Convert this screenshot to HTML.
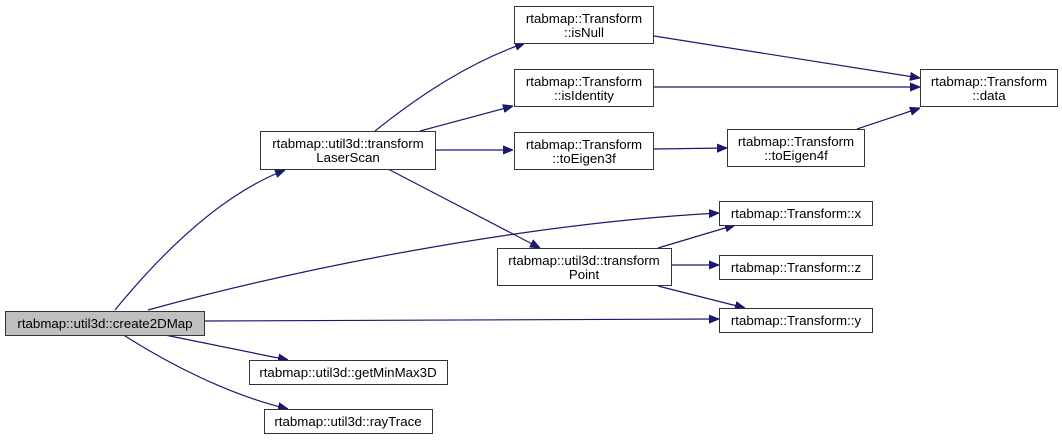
<!DOCTYPE html>
<html><head><meta charset="utf-8"><style>
html,body{margin:0;padding:0;background:#fff;}
svg{display:block}
text{font-family:"Liberation Sans",Arial,sans-serif;font-size:13.3px;fill:#000}
</style></head><body>
<svg width="1062" height="440" viewBox="0 0 1062 440" xmlns="http://www.w3.org/2000/svg">
<defs>
<marker id="a" viewBox="0 0 10 10" refX="10" refY="5" markerWidth="10" markerHeight="10" markerUnits="userSpaceOnUse" orient="auto">
<path d="M0,1 L10,5 L0,9 z" fill="#191970" stroke="#191970"/>
</marker>
</defs>
<g fill="none" stroke="#191970" stroke-width="1.2" marker-end="url(#a)">
<path d="M115,310 C160,255 220,195 285,170"/>
<path d="M148,310 C330,260 550,222 719,213"/>
<path d="M204,321 L719,319"/>
<path d="M160,334 L288,360"/>
<path d="M122,334 C170,365 230,395 288,409"/>
<path d="M375,131 C420,95 470,62 525,43"/>
<path d="M420,131 L513,106"/>
<path d="M436,150 L513,150"/>
<path d="M388,169 L540,248"/>
<path d="M654,36 L920,78"/>
<path d="M654,87 L920,87"/>
<path d="M654,149 L727,148"/>
<path d="M857,129 L920,108"/>
<path d="M658,248 L735,225"/>
<path d="M671,265 L719,265"/>
<path d="M658,286 L745,308"/>
</g>
<g stroke="#333" stroke-width="1" fill="#fff">
<rect x="5.5" y="311.5" width="199" height="24" fill="#bfbfbf"/>
<rect x="260.5" y="131.5" width="175" height="38"/>
<rect x="249.5" y="360.5" width="198" height="24"/>
<rect x="264.5" y="409.5" width="168" height="24"/>
<rect x="514.5" y="6.5" width="139" height="37"/>
<rect x="514.5" y="69.5" width="139" height="37"/>
<rect x="514.5" y="132.5" width="139" height="37"/>
<rect x="727.5" y="129.5" width="137" height="37"/>
<rect x="920.5" y="69.5" width="137" height="37"/>
<rect x="719.5" y="201.5" width="153" height="24"/>
<rect x="497.5" y="248.5" width="174" height="37"/>
<rect x="719.5" y="255.5" width="153" height="24"/>
<rect x="719.5" y="308.5" width="153" height="24"/>
</g>
<g text-anchor="middle">
<text x="105" y="328">rtabmap::util3d::create2DMap</text>
<text x="348" y="148">rtabmap::util3d::transform</text>
<text x="348" y="162">LaserScan</text>
<text x="348" y="377">rtabmap::util3d::getMinMax3D</text>
<text x="348" y="426">rtabmap::util3d::rayTrace</text>
<text x="584" y="23">rtabmap::Transform</text>
<text x="584" y="37">::isNull</text>
<text x="584" y="86">rtabmap::Transform</text>
<text x="584" y="100">::isIdentity</text>
<text x="584" y="149">rtabmap::Transform</text>
<text x="584" y="163">::toEigen3f</text>
<text x="796" y="146">rtabmap::Transform</text>
<text x="796" y="160">::toEigen4f</text>
<text x="989" y="86">rtabmap::Transform</text>
<text x="989" y="100">::data</text>
<text x="796" y="218">rtabmap::Transform::x</text>
<text x="584" y="265">rtabmap::util3d::transform</text>
<text x="584" y="279">Point</text>
<text x="796" y="272">rtabmap::Transform::z</text>
<text x="796" y="325">rtabmap::Transform::y</text>
</g>
</svg>
</body></html>
